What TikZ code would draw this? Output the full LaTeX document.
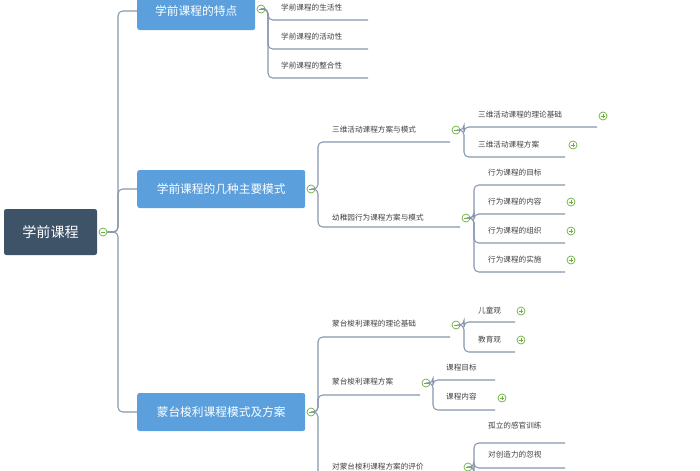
\documentclass[tikz,border=0pt]{standalone}
\usepackage{fontspec}
\setmainfont{Noto Sans CJK SC}
\usetikzlibrary{positioning}
\definecolor{rootcol}{HTML}{3F5368}
\definecolor{topiccol}{HTML}{5B9FDC}
\definecolor{linecol}{HTML}{8596AE}
\definecolor{togcol}{HTML}{6BAF3C}
\tikzset{
  root/.style={fill=rootcol, rounded corners=2pt, text=white, minimum width=93*0.03cm, minimum height=46*0.03cm, font=\fontsize{12}{14}\selectfont},
  topic/.style={fill=topiccol, rounded corners=2pt, text=white, minimum height=38*0.03cm, anchor=west, inner xsep=8pt, font=\fontsize{10}{12}\selectfont},
  leaf/.style={anchor=west, text=black!75, inner sep=0pt, font=\fontsize{6.5}{8}\selectfont},
  link/.style={draw=linecol, line width=0.9pt, rounded corners=4pt},
  togbase/.style={circle, draw=togcol, fill=white, line width=0.6pt, inner sep=0pt, minimum size=8*0.03cm},
  minus/.style={togbase, path picture={\draw[togcol, line width=0.6pt] ([xshift=-2pt]path picture bounding box.center) -- ([xshift=2pt]path picture bounding box.center);}},
  plus/.style={togbase, path picture={\draw[togcol, line width=0.6pt] ([xshift=-2pt]path picture bounding box.center) -- ([xshift=2pt]path picture bounding box.center) ([yshift=-2pt]path picture bounding box.center) -- ([yshift=2pt]path picture bounding box.center);}}
}
\begin{document}
\begin{tikzpicture}[x=0.03cm, y=-0.03cm]
	\useasboundingbox (0,0) rectangle (700,470);
	\clip (0,0) rectangle (700,470);

	% root and main topics
	\node[root] (R) at (50.5,232) {学前课程};
	\node[minus] (Rt) at (103,232) {};
	\node[topic, minimum width=118*0.03cm] (A) at (137,11) {学前课程的特点};
	\node[topic, minimum width=168*0.03cm] (B) at (137,189) {学前课程的几种主要模式};
	\node[topic, minimum width=168*0.03cm] (C) at (137,412) {蒙台梭利课程模式及方案};
	\node[minus] (At) at (261,9) {};
	\node[minus] (Bt) at (311,189) {};
	\node[minus] (Ct) at (311,412) {};

	\draw[link] (Rt.east) -- (118,232) |- (A.west);
	\draw[link] (Rt.east) -- (118,232) |- (B.west);
	\draw[link] (Rt.east) -- (118,232) |- (C.west);

	% features
	\node[leaf] (A1) at (281,8) {学前课程的生活性};
	\node[leaf] (A2) at (281,37) {学前课程的活动性};
	\node[leaf] (A3) at (281,66) {学前课程的整合性};
	\draw[link] (At.east) -- (268,9) |- (368,20);
	\draw[link] (At.east) -- (268,9) |- (368,49);
	\draw[link] (At.east) -- (268,9) |- (368,78);

	% modes
	\node[leaf] (B1) at (332,130) {三维活动课程方案与模式};
	\node[leaf] (B2) at (332,218) {幼稚园行为课程方案与模式};
	\node[minus] (B1t) at (456,130) {};
	\node[minus] (B2t) at (466,218) {};
	\draw[link] (Bt.east) -- (318,189) |- (450,142);
	\draw[link] (Bt.east) -- (318,189) |- (460,227);

	\node[leaf] (B11) at (478,115) {三维活动课程的理论基础};
	\node[leaf] (B12) at (478,145) {三维活动课程方案};
	\node[plus] at (603,116) {};
	\node[plus] at (573,145) {};
	\draw[link] (B1t.east) -- (464,130) |- (597,127);
	\draw[link] (B1t.east) -- (464,130) |- (565,157);

	\node[leaf] (B21) at (488,173) {行为课程的目标};
	\node[leaf] (B22) at (488,202) {行为课程的内容};
	\node[leaf] (B23) at (488,231) {行为课程的组织};
	\node[leaf] (B24) at (488,260) {行为课程的实施};
	\node[plus] at (571,202) {};
	\node[plus] at (571,231) {};
	\node[plus] at (571,260) {};
	\draw[link] (B2t.east) -- (474,218) |- (565,185);
	\draw[link] (B2t.east) -- (474,218) |- (565,214);
	\draw[link] (B2t.east) -- (474,218) |- (565,243);
	\draw[link] (B2t.east) -- (474,218) |- (565,272);

	% Montessori
	\node[leaf] (C1) at (332,324) {蒙台梭利课程的理论基础};
	\node[leaf] (C2) at (332,382) {蒙台梭利课程方案};
	\node[leaf] (C3) at (332,467) {对蒙台梭利课程方案的评价};
	\node[minus] (C1t) at (456,325) {};
	\node[minus] (C2t) at (426,383) {};
	\node[minus] (C3t) at (468,467) {};
	\draw[link] (Ct.east) -- (318,412) |- (450,337);
	\draw[link] (Ct.east) -- (318,412) |- (420,395);
	\draw[link] (Ct.east) -- (318,412) |- (462,478);

	\node[leaf] (C11) at (478,311) {儿童观};
	\node[leaf] (C12) at (478,340) {教育观};
	\node[plus] at (521,311) {};
	\node[plus] at (521,340) {};
	\draw[link] (C1t.east) -- (464,325) |- (515,322);
	\draw[link] (C1t.east) -- (464,325) |- (515,352);

	\node[leaf] (C21) at (446,368) {课程目标};
	\node[leaf] (C22) at (446,397) {课程内容};
	\node[plus] at (502,398) {};
	\draw[link] (C2t.east) -- (433,383) |- (495,380);
	\draw[link] (C2t.east) -- (433,383) |- (495,410);

	\node[leaf] (C31) at (488,426) {孤立的感官训练};
	\node[leaf] (C32) at (488,455) {对创造力的忽视};
	\draw[link] (C3t.east) -- (474,467) |- (565,443);
	\draw[link] (C3t.east) -- (474,467) |- (565,468);
\end{tikzpicture}
\end{document}
